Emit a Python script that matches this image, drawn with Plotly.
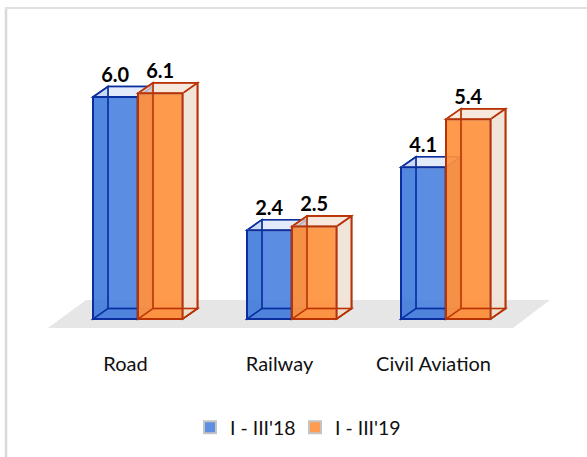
import plotly.graph_objects as go

categories = ["Road", "Railway", "Civil Aviation"]
series_names = ["I - III'18", "I - III'19"]
values_18 = [6.0, 2.4, 4.1]
values_19 = [6.1, 2.5, 5.4]
labels_18 = ["6.0", "2.4", "4.1"]
labels_19 = ["6.1", "2.5", "5.4"]

W, H = 587, 457
BOTTOM = 112
PX_X = 154.0
PX_Y = 37.0
BASE_PY = 319.0
ORIGIN_PX = 125.5
DX = 15 / PX_X
DY = 10.5 / PX_Y
BAR_W = 44.5 / PX_X
OFFS = [-32.5 / PX_X, 12.5 / PX_X]
plot_h = H - BOTTOM
x_range = [-ORIGIN_PX / PX_X, (W - ORIGIN_PX) / PX_X]
y_range = [(BASE_PY - plot_h) / PX_Y, BASE_PY / PX_Y]

STYLES = [
    dict(front="rgba(58,118,220,0.82)", edge="#0A2E9E", top="rgba(215,226,246,0.5)",
         back="rgba(205,220,245,0.35)", left="rgba(70,120,215,0.35)", right="rgba(40,70,180,0.62)",
         bottom="rgba(70,110,200,0.35)"),
    dict(front="rgba(255,140,50,0.86)", edge="#B83204", top="rgba(248,228,212,0.5)",
         back="rgba(242,228,216,0.65)", left="rgba(245,215,190,0.5)", right="rgba(240,226,214,0.85)",
         bottom="rgba(230,120,50,0.35)"),
]


def path(points, closed=True):
    return "M" + " L".join(f"{a:.4f},{b:.4f}" for a, b in points) + (" Z" if closed else "")


def face(points, fill, edge, layer="below", width=1.6):
    return dict(type="path", xref="x", yref="y", layer=layer, path=path(points),
                fillcolor=fill, line=dict(color=edge, width=width))


def edge_line(points, edge, width=1.5):
    return dict(type="path", xref="x", yref="y", layer="above", path=path(points, closed=False),
                line=dict(color=edge, width=width))


shapes = []
# floor
floor_px = [(48, 328), (86, 300), (550, 300), (513, 328)]
shapes.append(dict(type="path", xref="x", yref="y", layer="below",
                   path=path([((a - ORIGIN_PX) / PX_X, (BASE_PY - b) / PX_Y) for a, b in floor_px]),
                   fillcolor="#E6E6E6", line=dict(width=0)))
# frame
shapes.append(dict(type="line", xref="paper", yref="paper", x0=6 / W, x1=6 / W,
                   y0=(plot_h - H) / plot_h, y1=(plot_h - 7) / plot_h, line=dict(color="#D9D9D9", width=2.5)))
shapes.append(dict(type="line", xref="paper", yref="paper", x0=5 / W, x1=1,
                   y0=(plot_h - 8) / plot_h, y1=(plot_h - 8) / plot_h, line=dict(color="#E0E0E0", width=2)))

# box faces behind the semi-transparent fronts, and their edges seen through the fronts
above = []
for k, vals in enumerate([values_18, values_19]):
    st = STYLES[k]
    for i, v in enumerate(vals):
        x0 = i + OFFS[k]
        x1 = x0 + BAR_W
        faces = [
            ([(x0 + DX, DY), (x1 + DX, DY), (x1 + DX, v + DY), (x0 + DX, v + DY)], st["back"]),
            ([(x0, 0), (x1, 0), (x1 + DX, DY), (x0 + DX, DY)], st["bottom"]),
            ([(x0, 0), (x0 + DX, DY), (x0 + DX, v + DY), (x0, v)], st["left"]),
            ([(x1, 0), (x1 + DX, DY), (x1 + DX, v + DY), (x1, v)], st["right"]),
            ([(x0, v), (x1, v), (x1 + DX, v + DY), (x0 + DX, v + DY)], st["top"]),
        ]
        for pts, fill in faces:
            shapes.append(face(pts, fill, st["edge"]))
        # blue edges stay under the orange front, orange edges show through it
        if k == 1:
            above.append(edge_line(faces[0][0] + faces[0][0][:1], st["edge"]))
            above.append(edge_line([(x0, 0), (x0 + DX, DY)], st["edge"]))
            above.append(edge_line([(x1, 0), (x1 + DX, DY)], st["edge"]))
        else:
            above.append(edge_line([(x0 + DX, DY), (x0 + DX, v + DY)], st["edge"]))
            above.append(edge_line([(x0, 0), (x0 + DX, DY), (x1, DY)], st["edge"]))
shapes.extend(above)
# front outlines above the bars
for k, vals in enumerate([values_18, values_19]):
    for i, v in enumerate(vals):
        x0 = i + OFFS[k]
        x1 = x0 + BAR_W
        shapes.append(face([(x0, 0), (x1, 0), (x1, v), (x0, v)], "rgba(0,0,0,0)", STYLES[k]["edge"], "above", 2))

fig = go.Figure()
x_pos = list(range(len(categories)))
for k, vals in enumerate([values_18, values_19]):
    fig.add_trace(go.Bar(x=x_pos, y=vals, width=BAR_W, offset=OFFS[k], name=series_names[k],
                         marker=dict(color=STYLES[k]["front"], line=dict(color="#C4C4C4", width=2))))
for k, (vals, labs) in enumerate([(values_18, labels_18), (values_19, labels_19)]):
    fig.add_trace(go.Scatter(x=[i + OFFS[k] + BAR_W / 2 for i in x_pos], y=[v + 20.5 / PX_Y for v in vals],
                             mode="text", text=labs, showlegend=False, cliponaxis=False,
                             textfont=dict(family="Lato", size=20, color="#000000", weight="bold")))

fig.update_layout(
    width=W, height=H, autosize=False, margin=dict(l=0, r=0, t=0, b=BOTTOM),
    paper_bgcolor="white", plot_bgcolor="rgba(0,0,0,0)", barmode="overlay", shapes=shapes,
    font=dict(family="Lato", color="#111111"),
    legend=dict(orientation="h", x=190 / W, xanchor="left", y=(plot_h - 408) / plot_h, yanchor="top",
                font=dict(family="Lato", size=19.5, color="#111111"), bgcolor="rgba(0,0,0,0)",
                entrywidth=60, entrywidthmode="pixels",
                itemclick=False, itemdoubleclick=False),
    xaxis=dict(range=x_range, tickmode="array", tickvals=x_pos, ticktext=categories, showgrid=False,
               zeroline=False, showline=False, ticks="", tickfont=dict(family="Lato", size=20, color="#111111"),
               ticklabelstandoff=5, fixedrange=True),
    yaxis=dict(range=y_range, visible=False, fixedrange=True),
    showlegend=True,
)
fig.write_html("out.html", config=dict(displayModeBar=False),
               post_script="document.body.style.margin='0';")
